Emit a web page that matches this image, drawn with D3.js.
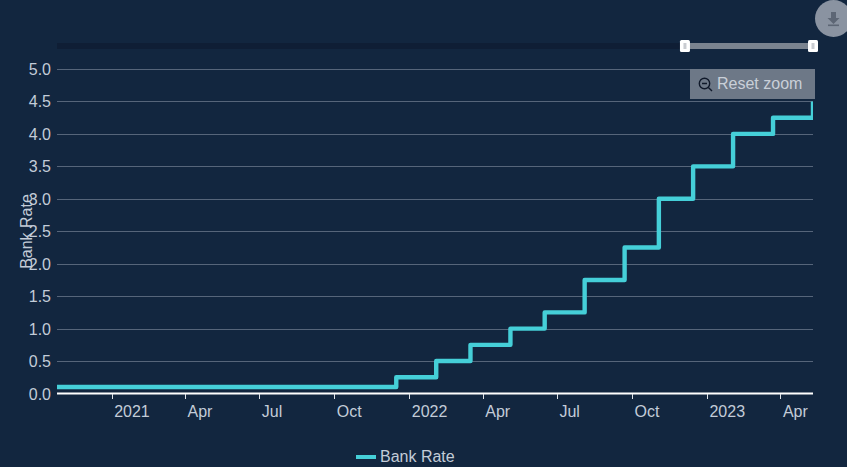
<!DOCTYPE html>
<html><head><meta charset="utf-8">
<script src="https://cdn.jsdelivr.net/npm/d3@7/dist/d3.min.js"></script>
<style>html,body{margin:0;padding:0;background:#12263f;overflow:hidden}svg{display:block;font-family:"Liberation Sans",Arial,sans-serif}</style>
</head><body><svg id="c" width="847" height="467"></svg>
<script>
const changeDates = ["2020-10-26","2021-12-16","2022-02-03","2022-03-17","2022-05-05","2022-06-16","2022-08-04","2022-09-22","2022-11-03","2022-12-15","2023-02-02","2023-03-23","2023-05-11"];
const bankRate = [0.1,0.25,0.5,0.75,1.0,1.25,1.75,2.25,3.0,3.5,4.0,4.25,4.5];
const yTicks = [0,0.5,1,1.5,2,2.5,3,3.5,4,4.5,5];
const xTickDates = ["2021-01-01","2021-04-01","2021-07-01","2021-10-01","2022-01-01","2022-04-01","2022-07-01","2022-10-01","2023-01-01","2023-04-01"];
const xTickLabels = ["2021","Apr","Jul","Oct","2022","Apr","Jul","Oct","2023","Apr"];
const seriesName = "Bank Rate";

const parse = d3.utcParse("%Y-%m-%d");
const bg="#12263f", txt="#c3ccd8", teal="#45cfd8", grid="#56657a";
const L=57,R=813,T=69,B=393.5;
const svg=d3.select("#c");
svg.append("rect").attr("width",847).attr("height",467).attr("fill",bg);
const x=d3.scaleUtc().domain([parse(changeDates[0]),parse(changeDates[changeDates.length-1])]).range([L,R]);
const y=d3.scaleLinear().domain([0,5]).range([B,T]);

svg.append("defs").append("clipPath").attr("id","plot").append("rect")
 .attr("x",L).attr("y",T-5).attr("width",R-L).attr("height",B-T+5);

// grid
svg.append("g").selectAll("line").data(yTicks.slice(1)).join("line")
 .attr("x1",L).attr("x2",R).attr("y1",d=>Math.round(y(d))+.5).attr("y2",d=>Math.round(y(d))+.5)
 .attr("stroke",grid).attr("stroke-width",1);
// y labels
svg.append("g").selectAll("text").data(yTicks).join("text")
 .attr("x",51).attr("y",d=>y(d)+6).attr("text-anchor","end").attr("font-size",16).attr("fill",txt)
 .text(d=>d.toFixed(1));
// y title
svg.append("text").attr("transform","translate(32,231.5) rotate(-90)").attr("text-anchor","middle")
 .attr("font-size",16).attr("fill",txt).text(seriesName);
// x axis
svg.append("line").attr("x1",L).attr("x2",R).attr("y1",393.5).attr("y2",393.5).attr("stroke","#ffffff").attr("stroke-width",2);
const xt=svg.append("g").selectAll("g").data(xTickDates).join("g");
xt.append("line").attr("x1",d=>Math.round(x(parse(d)))+.5).attr("x2",d=>Math.round(x(parse(d)))+.5)
 .attr("y1",394).attr("y2",399).attr("stroke","#dfe3e8");
xt.append("text").attr("x",d=>x(parse(d))+2.5).attr("y",417).attr("font-size",16).attr("fill",txt)
 .text((d,i)=>xTickLabels[i]);
// series
const pts=changeDates.map((d,i)=>[parse(d),bankRate[i]]);
const line=d3.line().x(d=>x(d[0])).y(d=>y(d[1])).curve(d3.curveStepAfter);
svg.append("path").attr("d",line(pts)).attr("clip-path","url(#plot)").attr("fill","none").attr("stroke",teal).attr("stroke-width",4.4).attr("stroke-linejoin","round");
// navigator
const selStart=x(parse("2022-12-05"));
svg.append("rect").attr("x",L).attr("y",43).attr("width",R-L).attr("height",6).attr("fill","#0f1e35");
svg.append("rect").attr("x",selStart).attr("y",43).attr("width",R-selStart).attr("height",6).attr("fill","#7b8490");
[selStart,R].forEach(h=>{
 svg.append("rect").attr("x",h-5).attr("y",40).attr("width",10).attr("height",12).attr("rx",1.5).attr("fill","#fff");
 svg.append("rect").attr("x",h-1.5).attr("y",43).attr("width",3).attr("height",6).attr("fill","#c9ccd1");
});
// export button
svg.append("circle").attr("cx",833.5).attr("cy",18.5).attr("r",18.5).attr("fill","#8a93a1");
svg.append("path").attr("d","M831 12h5v6h3.5l-6 6-6-6h3.5z").attr("fill","#5d6675");
svg.append("rect").attr("x",828).attr("y",24.5).attr("width",11).attr("height",1.6).attr("fill","#5d6675");
// reset zoom
svg.append("rect").attr("x",690).attr("y",69).attr("width",125).attr("height",30).attr("fill","#6d7887");
svg.append("circle").attr("cx",704.5).attr("cy",83.5).attr("r",5.2).attr("fill","none").attr("stroke","#10192a").attr("stroke-width",1.4);
svg.append("path").attr("d","M702 83.5h5M708.4 87.4l3.6 3.6").attr("stroke","#10192a").attr("stroke-width",1.4).attr("fill","none");
svg.append("text").attr("x",717).attr("y",89).attr("font-size",16).attr("fill","#c9cfd8").text("Reset zoom");
// legend
svg.append("line").attr("x1",356).attr("x2",376).attr("y1",457).attr("y2",457).attr("stroke",teal).attr("stroke-width",4);
svg.append("text").attr("x",380).attr("y",462).attr("font-size",16).attr("fill",txt).text(seriesName);
</script></body></html>
